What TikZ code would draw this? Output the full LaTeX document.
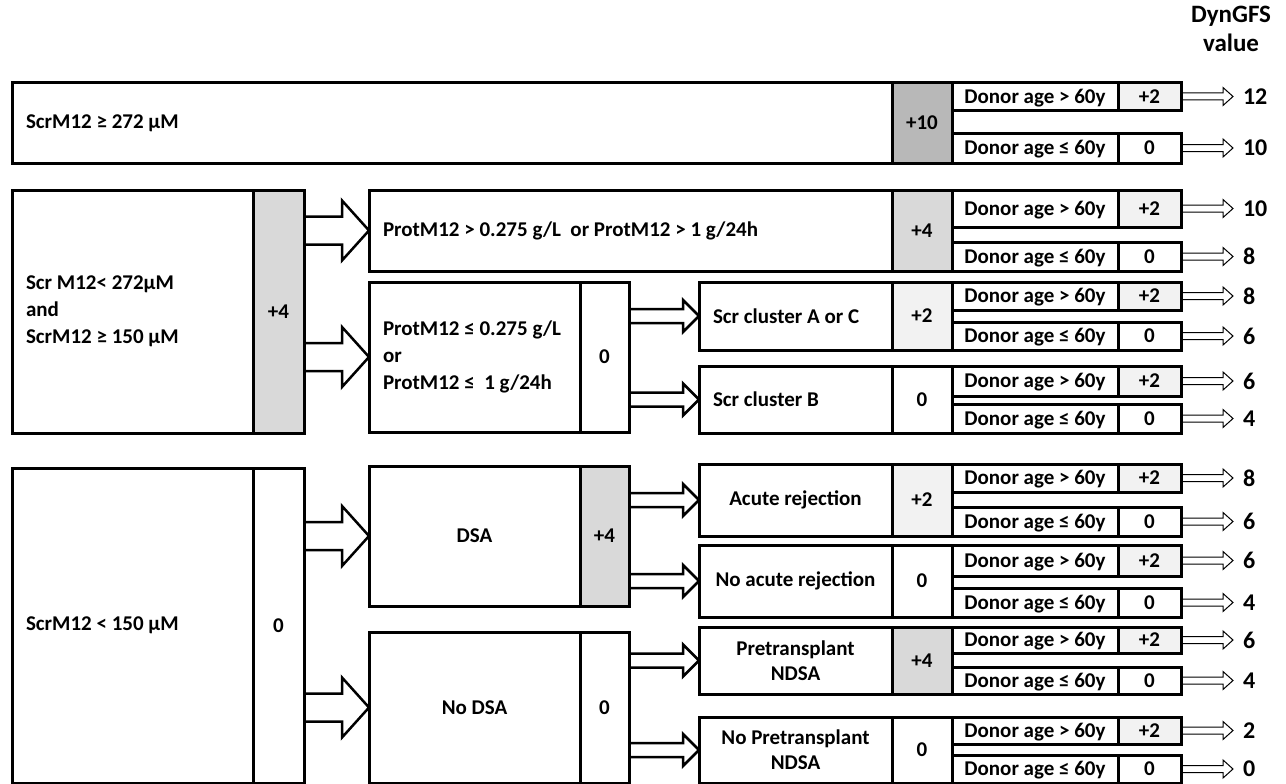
\documentclass[tikz,border=0pt]{standalone}
\usepackage{fontspec}
\setmainfont{Carlito}
\usepackage{tikz}
\usetikzlibrary{calc}

\definecolor{tengray}{RGB}{184,184,184}
\definecolor{fourgray}{RGB}{217,217,217}
\definecolor{twogray}{RGB}{242,242,242}

% hollow block arrow: [style]{from}{to}{shaft half}{head half}{head length}
\newcommand{\blockarrow}[6][]{%
  \draw[line join=miter, #1] let \p1=(#2), \p2=(#3) in
    (\x1,\y1+#4) -- (\x2-#6,\y1+#4) -- (\x2-#6,\y1+#5) -- (\x2,\y1)
    -- (\x2-#6,\y1-#5) -- (\x2-#6,\y1-#4) -- (\x1,\y1-#4);}

\begin{document}
\begin{tikzpicture}[x=1pt, y=-1pt,
  every node/.style={font=\fontsize{21}{27}\selectfont\bfseries},
  box/.style={draw, line width=3pt, rectangle, inner sep=0pt, outer sep=0pt, anchor=north west},
  oneline/.style={text height=16pt, text depth=2.5pt},
  cond/.style={box, align=flush left, inner xsep=14pt},
  score/.style={box, oneline, align=center},
  tenfill/.style={fill=tengray},
  fourfill/.style={fill=fourgray},
  twofill/.style={fill=twogray},
  donor/.style={box, oneline, minimum width=166pt},
  dscore/.style={box, oneline, minimum width=63pt},
  val/.style={anchor=west, inner sep=0pt, outer xsep=10pt, font=\fontsize{24}{29}\selectfont\bfseries},
  bigarrow/.style={line width=2.5pt},
  midarrow/.style={line width=2.5pt},
  smallarrow/.style={line width=1pt}]
  \path[use as bounding box, fill=white] (0,0) rectangle (1286,784);

  \node[align=center, font=\fontsize{25}{29}\selectfont\bfseries] (hdr) at (1231,29) {DynGFS\\value};

  % first level
  \node[cond, text width=852pt, minimum height=80pt] (s1) at (12,83) {ScrM12 ≥ 272 µM};
  \node[score, tenfill, minimum width=60pt, minimum height=80pt] (s1c) at (s1.north east) {+10};
  \node[cond, text width=213pt, minimum height=243pt] (s2) at (12,190) {Scr M12< 272µM\\and\\ScrM12 ≥ 150 µM};
  \node[score, fourfill, minimum width=51pt, minimum height=243pt] (s2c) at (s2.north east) {+4};
  \node[cond, text width=213pt, minimum height=315pt] (s3) at (12,468) {ScrM12 < 150 µM};
  \node[score, minimum width=51pt, minimum height=315pt] (s3c) at (s3.north east) {0};

  % second level
  \node[cond, text width=495pt, minimum height=81pt] (p1) at (369,190) {ProtM12 > 0.275 g/L\ \ or ProtM12 > 1 g/24h};
  \node[score, fourfill, minimum width=60pt, minimum height=81pt] (p1c) at (p1.north east) {+4};
  \node[cond, text width=183pt, minimum height=150pt] (p2) at (369,282) {ProtM12~≤~0.275~g/L\\or\\ProtM12~≤~~1~g/24h};
  \node[score, minimum width=49pt, minimum height=150pt] (p2c) at (p2.north east) {0};
  \node[box, minimum width=211pt, minimum height=140pt] (d1) at (369,466) {DSA};
  \node[score, fourfill, minimum width=49pt, minimum height=140pt] (d1c) at (d1.north east) {+4};
  \node[box, minimum width=211pt, minimum height=151pt] (d2) at (369,632) {No DSA};
  \node[score, minimum width=49pt, minimum height=151pt] (d2c) at (d2.north east) {0};

  % third level
  \node[cond, text width=165pt, minimum height=68pt] (c1) at (699,282) {Scr cluster A or C};
  \node[score, twofill, minimum width=60pt, minimum height=68pt] (c1c) at (c1.north east) {+2};
  \node[cond, text width=165pt, minimum height=67pt] (c2) at (699,366) {Scr cluster B};
  \node[score, minimum width=60pt, minimum height=67pt] (c2c) at (c2.north east) {0};
  \node[box, align=center, minimum width=193pt, minimum height=72pt] (a1) at (699,464) {Acute rejection};
  \node[score, twofill, minimum width=60pt, minimum height=72pt] (a1c) at (a1.north east) {+2};
  \node[box, align=center, minimum width=193pt, minimum height=72pt] (a2) at (699,545) {No acute rejection};
  \node[score, minimum width=60pt, minimum height=72pt] (a2c) at (a2.north east) {0};
  \node[box, align=center, minimum width=193pt, minimum height=67pt, font=\fontsize{21}{25}\selectfont\bfseries] (a3) at (699,627) {Pretransplant\\NDSA};
  \node[score, fourfill, minimum width=60pt, minimum height=67pt] (a3c) at (a3.north east) {+4};
  \node[box, align=center, minimum width=193pt, minimum height=66pt, font=\fontsize{21}{25}\selectfont\bfseries] (a4) at (699,717) {No Pretransplant\\NDSA};
  \node[score, minimum width=60pt, minimum height=66pt] (a4c) at (a4.north east) {0};

  % donor age
  \foreach \src/\hup/\hlo/\vup/\vlo [count=\i] in {s1c/27/30/12/10, p1c/37/29/10/8,
      c1c/28/28/8/6, c2c/30/29/6/4, a1c/28/29/8/6, a2c/31/29/6/4, a3c/26/27/6/4, a4c/27/28/2/0} {
    \node[donor, minimum height=\hup pt] (u\i) at (\src.north east) {Donor age > 60y};
    \node[dscore, twofill, minimum height=\hup pt] (uc\i) at (u\i.north east) {+2};
    \node[donor, anchor=south west, minimum height=\hlo pt] (l\i) at (\src.south east) {Donor age ≤ 60y};
    \node[dscore, anchor=south west, minimum height=\hlo pt] (lc\i) at (l\i.south east) {0};
    \node[val] (uv\i) at ([xshift=52pt]uc\i.east) {\vup};
    \node[val] (lv\i) at ([xshift=52pt]lc\i.east) {\vlo};
    \blockarrow[smallarrow]{uc\i.east}{uv\i.west}{3.5pt}{9pt}{10pt}
    \blockarrow[smallarrow]{lc\i.east}{lv\i.west}{3.5pt}{9pt}{10pt}
  }

  \blockarrow[bigarrow]{s2c.east |- p1.west}{p1.west}{14pt}{30pt}{27pt}
  \blockarrow[bigarrow]{s2c.east |- p2.west}{p2.west}{14pt}{30pt}{27pt}
  \blockarrow[bigarrow]{s3c.east |- d1.west}{d1.west}{14pt}{30pt}{27pt}
  \blockarrow[bigarrow]{s3c.east |- d2.west}{d2.west}{14pt}{30pt}{27pt}
  \blockarrow[midarrow]{p2c.east |- c1.west}{c1.west}{7pt}{16pt}{16pt}
  \blockarrow[midarrow]{p2c.east |- c2.west}{c2.west}{7pt}{16pt}{16pt}
  \blockarrow[midarrow]{d1c.east |- a1.west}{a1.west}{7pt}{16pt}{16pt}
  \blockarrow[midarrow]{d1c.east |- a2.west}{a2.west}{7pt}{16pt}{16pt}
  \blockarrow[midarrow]{d2c.east |- a3.west}{a3.west}{7pt}{16pt}{16pt}
  \blockarrow[midarrow]{d2c.east |- a4.west}{a4.west}{7pt}{16pt}{16pt}
\end{tikzpicture}
\end{document}
